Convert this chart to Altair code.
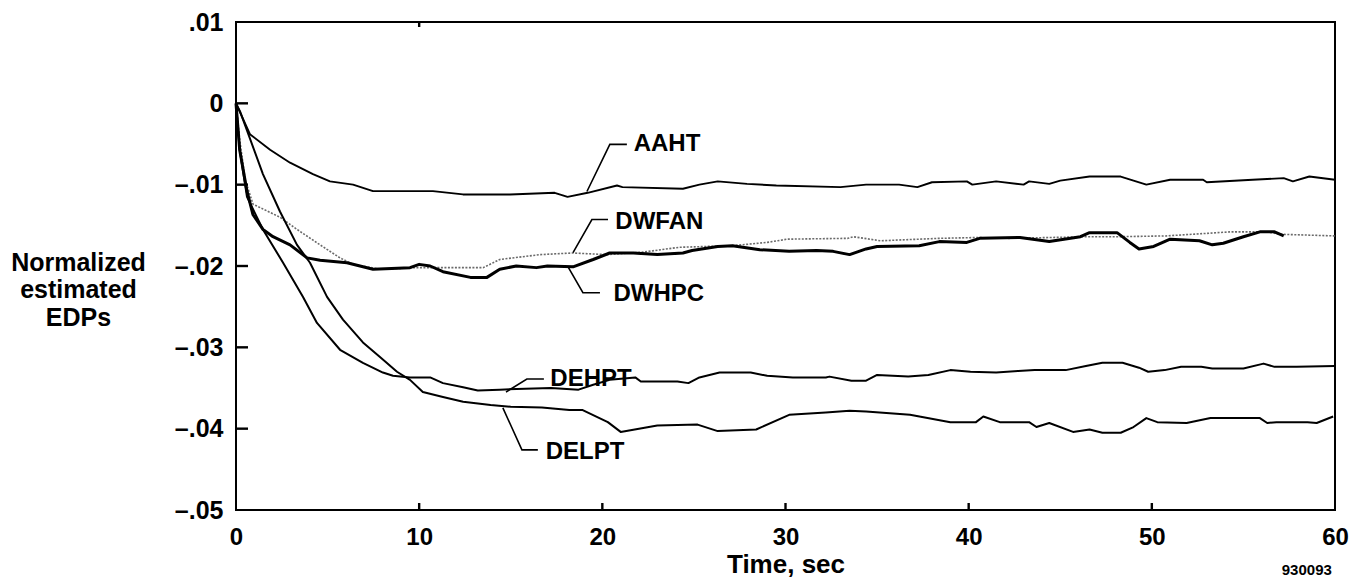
import altair as alt
import pandas as pd

# ---------------- data ----------------
aaht_t = [0, 0.76, 1.86, 2.95, 4.2, 5.13, 6.39, 7.48, 10.75, 12.39, 14.96, 17.4, 18.1, 19.2, 20.8, 21.1,
          24.4, 25.3, 26.3, 27.9, 29.5, 33.0, 34.4, 36.2, 37.2, 38.0, 39.9, 40.2, 41.5, 43.0, 43.3, 44.4,
          45.0, 46.6, 48.3, 49.7, 51.0, 52.8, 53.0, 55.5, 57.2, 57.7, 58.6, 60]
aaht_v = [0, -0.0038, -0.0057, -0.0073, -0.0087, -0.0096, -0.0100, -0.0108, -0.0108, -0.0112, -0.0112,
          -0.0110, -0.0115, -0.0110, -0.0101, -0.0103, -0.0105, -0.0100, -0.0096, -0.0099, -0.0101,
          -0.0103, -0.0100, -0.0100, -0.0103, -0.0097, -0.0096, -0.0100, -0.0096, -0.0100, -0.0096,
          -0.0099, -0.0095, -0.0090, -0.0090, -0.0100, -0.0094, -0.0094, -0.0097, -0.0094, -0.0092,
          -0.0096, -0.0090, -0.0094]

dwfan_t = [0, 0.2, 0.5, 0.93, 2.4, 3.33, 4.59, 5.68, 6.39, 7.86, 9.88, 13.5, 14.4, 16.6, 18.4, 20.25,
           22.2, 24.2, 27.1, 29.0, 30.1, 33.4, 33.7, 35.2, 37.3, 38.4, 40.4, 42.2, 46.5, 48.1, 50.8,
           54.3, 56.3, 57.0, 60]
dwfan_v = [0, -0.0044, -0.0094, -0.0124, -0.0140, -0.0155, -0.0174, -0.0190, -0.0198, -0.0204,
           -0.0202, -0.0202, -0.0192, -0.0186, -0.0184, -0.0186, -0.0183, -0.0177, -0.0175, -0.0171,
           -0.0167, -0.0166, -0.0164, -0.0169, -0.0167, -0.0166, -0.0165, -0.0166, -0.0164, -0.0164,
           -0.0163, -0.0158, -0.0158, -0.0161, -0.0163]

dwhpc_t = [0, 0.2, 0.6, 0.93, 1.47, 2.02, 2.95, 3.88, 4.59, 6.06, 7.48, 9.5, 10.0, 10.6, 11.3, 12.8,
           13.7, 14.4, 15.3, 16.4, 17.0, 18.4, 19.5, 20.4, 21.7, 23.0, 24.4, 24.9, 26.3, 27.1, 28.6,
           30.2, 31.7, 32.6, 33.5, 34.4, 35.0, 37.3, 38.4, 39.9, 40.6, 42.8, 44.4, 46.1, 46.6, 48.1,
           48.8, 49.3, 50.1, 51.0, 52.6, 53.3, 53.9, 55.0, 55.9, 56.7, 57.2]
dwhpc_v = [0, -0.0057, -0.0108, -0.0137, -0.0155, -0.0164, -0.0174, -0.0190, -0.0193, -0.0196,
           -0.0204, -0.0202, -0.0198, -0.0200, -0.0207, -0.0214, -0.0214, -0.0204, -0.0200, -0.0202,
           -0.0200, -0.0201, -0.0192, -0.0184, -0.0184, -0.0186, -0.0184, -0.0181, -0.0176, -0.0175,
           -0.0180, -0.0182, -0.0181, -0.0182, -0.0186, -0.0179, -0.0176, -0.0175, -0.0170, -0.0171,
           -0.0166, -0.0165, -0.0170, -0.0164, -0.0159, -0.0159, -0.0171, -0.0179, -0.0176, -0.0167,
           -0.0169, -0.0174, -0.0172, -0.0164, -0.0158, -0.0158, -0.0163]

dehpt_t = [0, 0.2, 0.6, 1.47, 2.57, 3.66, 4.42, 5.68, 6.93, 8.02, 8.57, 9.5, 10.6, 11.3, 12.4, 13.2,
           14.4, 17.2, 18.7, 19.5, 20.4, 21.8, 22.1, 24.1, 24.7, 25.3, 26.4, 28.1, 29.0, 30.4, 32.2,
           32.4, 33.6, 34.4, 35.0, 36.7, 37.8, 39.0, 40.1, 41.5, 42.7, 43.6, 45.3, 46.4, 47.3, 48.4,
           49.3, 49.8, 50.7, 51.6, 52.7, 53.3, 55.0, 56.1, 56.7, 57.9, 60]
dehpt_v = [0, -0.0057, -0.0115, -0.0155, -0.0196, -0.0238, -0.0270, -0.0303, -0.0319, -0.0331,
           -0.0335, -0.0337, -0.0337, -0.0344, -0.0349, -0.0353, -0.0352, -0.0350, -0.0352, -0.0346,
           -0.0340, -0.0337, -0.0342, -0.0342, -0.0344, -0.0337, -0.0331, -0.0331, -0.0335, -0.0337,
           -0.0337, -0.0336, -0.0341, -0.0341, -0.0334, -0.0336, -0.0334, -0.0328, -0.0330, -0.0331,
           -0.0329, -0.0328, -0.0328, -0.0323, -0.0319, -0.0319, -0.0325, -0.0330, -0.0328, -0.0324,
           -0.0324, -0.0326, -0.0326, -0.0320, -0.0324, -0.0324, -0.0323]

delpt_t = [0, 0.22, 1.47, 2.4, 3.33, 4.04, 4.97, 5.84, 6.93, 7.86, 8.79, 9.5, 10.2, 11.3, 12.4, 13.9,
           15.0, 16.7, 18.2, 18.9, 20.3, 21.0, 23.0, 25.2, 26.3, 28.4, 30.2, 32.2, 33.5, 34.4, 36.8,
           39.0, 40.4, 40.8, 41.7, 43.3, 43.7, 44.4, 45.7, 46.6, 47.3, 48.3, 49.0, 49.7, 50.3, 51.9,
           53.2, 55.9, 56.3, 56.8, 58.5, 59.0, 59.9]
delpt_v = [0, -0.0010, -0.0087, -0.0133, -0.0174, -0.0196, -0.0238, -0.0266, -0.0294, -0.0312,
           -0.0330, -0.0340, -0.0355, -0.0361, -0.0367, -0.0371, -0.0373, -0.0374, -0.0377, -0.0377,
           -0.0392, -0.0404, -0.0396, -0.0395, -0.0403, -0.0401, -0.0383, -0.0380, -0.0378, -0.0379,
           -0.0383, -0.0392, -0.0392, -0.0385, -0.0392, -0.0392, -0.0398, -0.0393, -0.0404, -0.0401,
           -0.0405, -0.0405, -0.0398, -0.0387, -0.0392, -0.0393, -0.0387, -0.0387, -0.0393, -0.0392,
           -0.0392, -0.0393, -0.0385]

# labels and leader lines
label_names = ["AAHT", "DWFAN", "DWHPC", "DEHPT", "DELPT"]
label_t = [21.6, 20.6, 20.5, 17.05, 16.8]
label_v = [-0.0050, -0.01453, -0.0234, -0.0339, -0.04286]
leader_t = [[19.16, 20.41, 21.34], [18.4, 19.43, 20.31], [18.12, 18.94, 19.87],
            [14.74, 15.88, 16.81], [14.57, 15.61, 16.48]]
leader_v = [[-0.01084, -0.00505, -0.00505], [-0.01835, -0.01429, -0.01429],
            [-0.02007, -0.02328, -0.02328], [-0.0355, -0.0339, -0.0339],
            [-0.03744, -0.04261, -0.04261]]

x_ticks = [0, 10, 20, 30, 40, 50, 60]
y_ticks = [-0.05, -0.04, -0.03, -0.02, -0.01, 0, 0.01]
y_tick_labels = ["\u2013.05", "\u2013.04", "\u2013.03", "\u2013.02", "\u2013.01", "0", ".01"]
inner_y_ticks = [-0.04, -0.03, -0.02, -0.01, 0]
inner_x_ticks_bottom = [10, 20, 30, 40, 50]
inner_x_ticks_top = [10]
figure_id = "930093"

# ---------------- build ----------------
FONT = "Liberation Sans"
Y_PER_PX = 0.06 / 488.0
X_PER_PX = 60.0 / 1099.0

def df(t, v):
    return pd.DataFrame({"t": t, "v": v})

y_label_expr = ""
for val, lab in zip(y_ticks, y_tick_labels):
    y_label_expr += f"abs(datum.value - ({val})) < 1e-6 ? '{lab}' : "
y_label_expr += "''"

x_enc = alt.X("t:Q", scale=alt.Scale(domain=[0, 60], nice=False, zero=False),
              axis=alt.Axis(values=x_ticks, title="Time, sec", grid=False, ticks=False, tickSize=0,
                            domain=False, labelFont=FONT, labelFontSize=24, labelFontWeight="bold",
                            labelColor="black", labelPadding=15, labelFlush=False,
                            titleFont=FONT, titleFontSize=26, titleFontWeight="bold", titleColor="black",
                            titleBaseline="middle", titleY=54))
y_enc = alt.Y("v:Q", scale=alt.Scale(domain=[-0.05, 0.01], nice=False, zero=False),
              axis=alt.Axis(values=y_ticks, labelExpr=y_label_expr, grid=False, ticks=False, tickSize=0,
                            domain=False, labelFont=FONT, labelFontSize=25, labelFontWeight="bold",
                            labelColor="black", labelPadding=13, labelFlush=False,
                            title=["Normalized", "estimated", "EDPs"], titleAngle=0,
                            titleAlign="center", titleBaseline="middle", titleX=-158, titleY=240,
                            titleLineHeight=27.5, titleFont=FONT, titleFontSize=25,
                            titleFontWeight="bold", titleColor="black"))

def line(t, v, width, color="black", dash=None):
    kw = dict(color=color, strokeWidth=width, interpolate="linear", strokeJoin="round")
    if dash:
        kw["strokeDash"] = dash
    return alt.Chart(df(t, v)).mark_line(**kw).encode(x=x_enc, y=y_enc)

layers = [
    line(dwfan_t, dwfan_v, 1.6, "#6a6a6a", [2, 1.5]),
    line(aaht_t, aaht_v, 1.9),
    line(dehpt_t, dehpt_v, 2.0),
    line(delpt_t, delpt_v, 2.0),
    line(dwhpc_t, dwhpc_v, 3.0),
]

lead_rows = []
for name, ts, vs in zip(label_names, leader_t, leader_v):
    for i, (tt, vv) in enumerate(zip(ts, vs)):
        lead_rows.append({"label": name, "i": i, "t": tt, "v": vv})
leaders = alt.Chart(pd.DataFrame(lead_rows)).mark_line(color="black", strokeWidth=1.6).encode(
    x=x_enc, y=y_enc, detail="label:N", order="i:Q")

labels = alt.Chart(pd.DataFrame({"t": label_t, "v": label_v, "name": label_names})).mark_text(
    align="left", baseline="middle", font=FONT, fontSize=24, fontWeight="bold", color="black", dx=2
).encode(x=x_enc, y=y_enc, text="name:N")

# inward tick marks (axis decoration), drawn as short two-point lines
tick_rows = []
for k, yv in enumerate(inner_y_ticks):
    tick_rows.append({"id": f"y{k}", "i": 0, "t": 0.0, "v": yv})
    tick_rows.append({"id": f"y{k}", "i": 1, "t": 12 * X_PER_PX, "v": yv})
for k, xv in enumerate(inner_x_ticks_bottom):
    tick_rows.append({"id": f"b{k}", "i": 0, "t": xv, "v": -0.05})
    tick_rows.append({"id": f"b{k}", "i": 1, "t": xv, "v": -0.05 + 7 * Y_PER_PX})
for k, xv in enumerate(inner_x_ticks_top):
    tick_rows.append({"id": f"t{k}", "i": 0, "t": xv, "v": 0.01})
    tick_rows.append({"id": f"t{k}", "i": 1, "t": xv, "v": 0.01 - 5 * Y_PER_PX})
ticks = alt.Chart(pd.DataFrame(tick_rows)).mark_line(color="black", strokeWidth=2.4).encode(
    x=x_enc, y=y_enc, detail="id:N", order="i:Q")

fig_id = alt.Chart(pd.DataFrame({"t": [58.46], "v": [-0.0574], "s": [figure_id]})).mark_text(
    align="center", baseline="middle", font=FONT, fontSize=15, fontWeight="bold", color="black"
).encode(x=x_enc, y=y_enc, text="s:N")

chart = alt.layer(*layers, leaders, labels, ticks, fig_id).properties(
    width=1099, height=488,
    padding={"left": 236, "top": 22, "right": 30, "bottom": 69},
    autosize=alt.AutoSizeParams(type="none"),
    background="white",
).configure_view(stroke="black", strokeWidth=2)

chart.save("out.html", embed_options={"renderer": "svg", "actions": False})
